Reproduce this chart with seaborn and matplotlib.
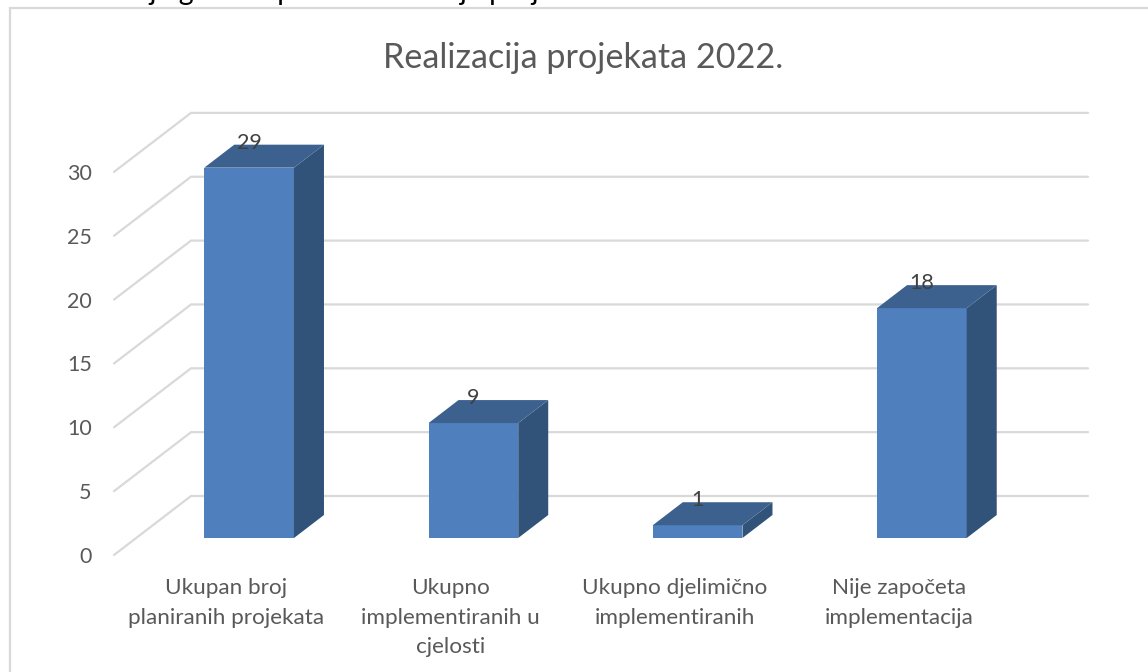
import matplotlib
matplotlib.use("Agg")
import matplotlib.pyplot as plt
from matplotlib.lines import Line2D
import seaborn as sns

categories = ["Ukupan broj\nplaniranih projekata", "Ukupno\nimplementiranih u\ncjelosti",
              "Ukupno djelimično\nimplementiranih", "Nije započeta\nimplementacija"]
values = [29, 9, 1, 18]
y_ticks = [0, 5, 10, 15, 20, 25, 30]
title = "Realizacija projekata 2022."
cut_text = "Ova tabela je grafički prikaz realizacije projekata."

W, H = 1148, 672
# one category / one unit in pixels of the reference
PX_CAT = 224.25
PX_UNIT = 12.77
# the 3D look: shift of the bar plane from the front edge of the floor, and depth of things
FRONT_X, FRONT_Y = 23 / PX_CAT, 17 / PX_UNIT
WALL_X, WALL_Y = 77 / PX_CAT, 59 / PX_UNIT
BAR_X, BAR_Y = 30 / PX_CAT, 23 / PX_UNIT

GREY = "#D9D9D9"
TEXT = "#595959"
FRONT, SIDE, TOP = "#4F7FBC", "#315379", "#3C618F"

sns.set_theme(style="white")
plt.rcParams["font.family"] = ["Lato", "DejaVu Sans"]

fig = plt.figure(figsize=(W / 100, H / 100), dpi=100, facecolor="white")
ax = fig.add_axes([114 / W, 1 - 555 / H, 974 / W, 442 / H])

sns.barplot(x=categories, y=values, color=FRONT, saturation=1, width=0.4, ax=ax, zorder=3, linewidth=0)

ax.set_xlim(-0.5 - FRONT_X, -0.5 - FRONT_X + 974 / PX_CAT)
ax.set_ylim(-FRONT_Y, -FRONT_Y + 442 / PX_UNIT)
x0, x1 = ax.get_xlim()

# gridlines: front edge up to the wall, then along the wall
for t in y_ticks:
    y = t - FRONT_Y
    ax.plot([x0, x0 + WALL_X, x1], [y, y + WALL_Y, y + WALL_Y], color=GREY, lw=1.6, zorder=1,
            solid_joinstyle="miter", clip_on=False)

# side and top faces, taken from the bars seaborn drew
for bar, v in zip(ax.patches, values):
    left = bar.get_x()
    right = left + bar.get_width()
    ax.fill([right, right + BAR_X, right + BAR_X, right], [0, BAR_Y, v + BAR_Y, v], color=SIDE, lw=0, zorder=3)
    ax.fill([left, right, right + BAR_X, left + BAR_X], [v, v, v + BAR_Y, v + BAR_Y], color=TOP, lw=0, zorder=3)
    ax.text(left + bar.get_width() / 2, v + 1.95, str(v), ha="center", va="center", fontsize=15.5, color="#404040", zorder=5)

ax.set_xticks([i - FRONT_X for i in range(len(categories))])
ax.set_xticklabels(categories, fontsize=16.2, color=TEXT, linespacing=1.6)
ax.set_yticks([t - FRONT_Y for t in y_ticks])
ax.set_yticklabels([str(t) for t in y_ticks], fontsize=15.5, color=TEXT, va="center_baseline")
ax.tick_params(axis="x", length=0, pad=16.5)
ax.tick_params(axis="y", length=0, pad=16)
sns.despine(ax=ax, left=True, bottom=True)
ax.set_xlabel("")
ax.set_ylabel("")

fig.text(583 / W, 1 - 58 / H, title, ha="center", va="center", fontsize=24.6, color=TEXT)

# frame of the chart, only left and top are visible in the crop
fig.add_artist(Line2D([9.5 / W, 9.5 / W, 1], [0, 1 - 8 / H, 1 - 8 / H], color=GREY, lw=1.6, solid_joinstyle="miter"))
# line of body text above the chart, cut by the crop
fig.text(7 / W, 1, cut_text, ha="left", va="baseline", fontsize=20.5, color="black")

fig.savefig("out.png", dpi=100, facecolor="white")
